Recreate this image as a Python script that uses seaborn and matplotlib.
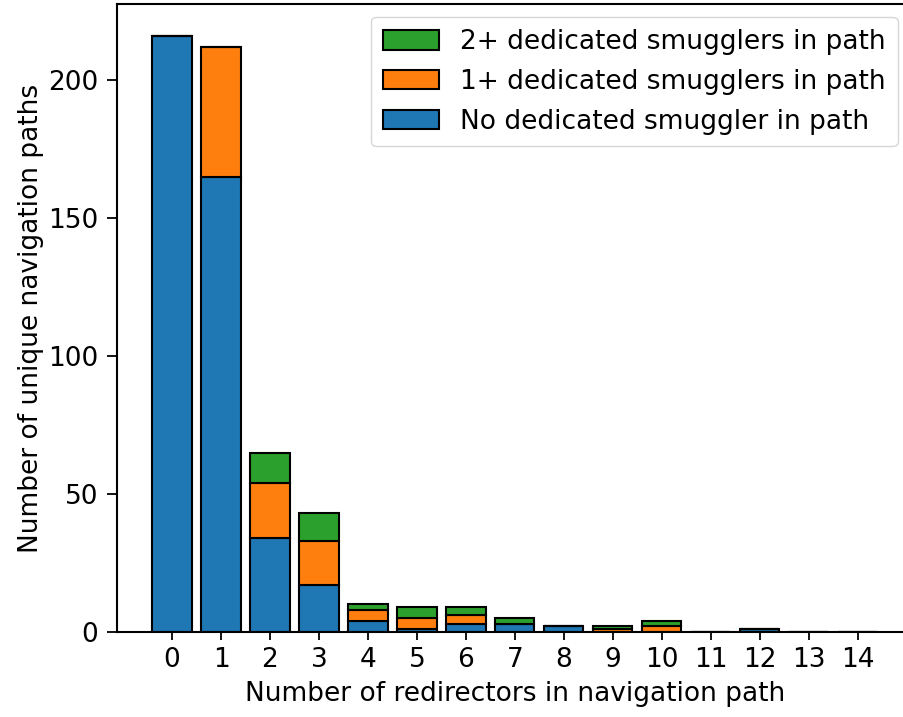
import matplotlib
matplotlib.use("Agg")
import matplotlib.pyplot as plt
import pandas as pd
import seaborn as sns

# Number of redirectors in each navigation path (x categories)
redirectors = list(range(15))

# Unique navigation paths per redirector count, split by smuggler involvement
no_smuggler = [216, 165, 34, 17, 4, 1, 3, 3, 2, 0, 0, 0, 1, 0, 0]
one_plus = [0, 47, 20, 16, 4, 4, 3, 0, 0, 1, 2, 0, 0, 0, 0]
two_plus = [0, 0, 11, 10, 2, 4, 3, 2, 0, 1, 2, 0, 0, 0, 0]

labels = [
    "2+ dedicated smugglers in path",
    "1+ dedicated smugglers in path",
    "No dedicated smuggler in path",
]
colors = ["#2ca02c", "#ff7f0e", "#1f77b4"]

rows = []
for lab, vals in zip(labels, [two_plus, one_plus, no_smuggler]):
    for x, v in zip(redirectors, vals):
        rows.append({"redirectors": x, "group": lab, "count": v})
df = pd.DataFrame(rows)

sns.set_style("ticks")
plt.rcParams.update({
    "font.family": ["DejaVu Sans"],
    "text.color": "black",
    "axes.labelcolor": "black",
    "axes.edgecolor": "black",
    "xtick.color": "black",
    "ytick.color": "black",
})

fig = plt.figure(figsize=(9.04, 7.17), dpi=100)
ax = fig.add_axes([0.1294, 0.1186, 0.8812, 0.8758])

sns.histplot(
    data=df, x="redirectors", hue="group", weights="count",
    hue_order=labels, palette=colors, multiple="stack",
    discrete=True, shrink=0.8, alpha=1, edgecolor="black",
    linewidth=1.5, ax=ax,
)

ax.set_xlim(-1.124, 15.14)
ax.set_ylim(0, 227.5)
ax.set_xticks(redirectors)
ax.set_xticklabels([str(x) for x in redirectors])
ax.set_yticks([0, 50, 100, 150, 200])
ax.tick_params(labelsize=19, width=1.3)
ax.tick_params(axis="y", length=7.5, pad=6)
ax.tick_params(axis="x", length=6, pad=5)
for sp in ax.spines.values():
    sp.set_linewidth(1.5)
ax.set_xlabel("Number of redirectors in navigation path", fontsize=19)
ax.set_ylabel("Number of unique navigation paths", fontsize=19)
ax.yaxis.set_label_coords(-0.091, 0.5)
ax.xaxis.set_label_coords(0.5, -0.078)

sns.move_legend(
    ax, "upper right", bbox_to_anchor=(0.98, 0.979), title=None,
    frameon=True, fontsize=19, handlelength=2.12, handleheight=0.76,
    handletextpad=0.8, labelspacing=0.52, borderaxespad=0, borderpad=0.45,
)

fig.savefig("out.png", dpi=100)
